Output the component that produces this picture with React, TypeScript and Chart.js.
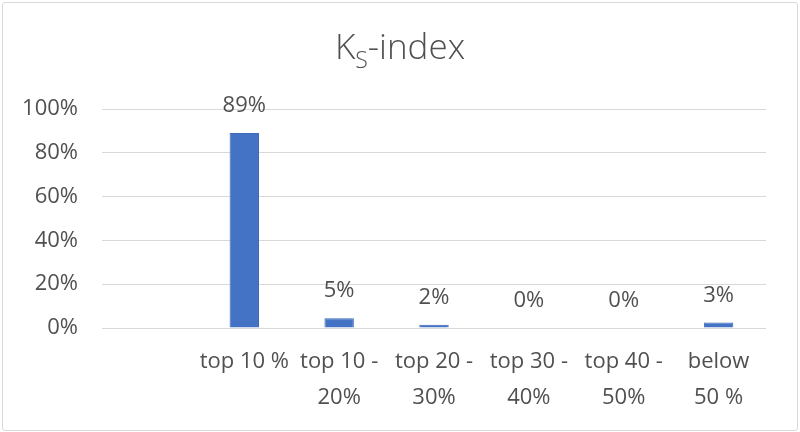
import React, { useEffect, useRef } from "react";
import { Chart, registerables } from "chart.js";

Chart.register(...registerables);

const categories: (string | string[])[] = [
  "",
  "top 10 %",
  ["top 10 -", "20%"],
  ["top 20 -", "30%"],
  ["top 30 -", "40%"],
  ["top 40 -", "50%"],
  ["below", "50 %"],
];
const values: (number | null)[] = [null, 89, 4.5, 1.5, 0, 0, 2.5];
const yTicks = [0, 20, 40, 60, 80, 100];
const titleMain = "K";
const titleSub = "S";
const titleRest = "-index";

const FONT = "'Open Sans', 'Noto Sans', sans-serif";
const TEXT = "#505050";

const titlePlugin = {
  id: "subTitle",
  afterDraw(chart: any) {
    const ctx = chart.ctx;
    ctx.save();
    ctx.fillStyle = TEXT;
    ctx.textBaseline = "alphabetic";
    ctx.textAlign = "left";
    const big = `300 35px ${FONT}`;
    const small = `300 23px ${FONT}`;
    ctx.font = big;
    const wK = ctx.measureText(titleMain).width;
    const wR = ctx.measureText(titleRest).width;
    ctx.font = small;
    const wS = ctx.measureText(titleSub).width;
    const total = wK + wS + wR;
    let x = chart.width / 2 - total / 2;
    const base = 59;
    ctx.font = big;
    ctx.fillText(titleMain, x, base);
    x += wK;
    ctx.font = small;
    ctx.fillText(titleSub, x, base + 9);
    x += wS;
    ctx.font = big;
    ctx.fillText(titleRest, x, base);
    ctx.restore();
  },
};

const labelPlugin = {
  id: "valueLabels",
  afterDatasetsDraw(chart: any) {
    const ctx = chart.ctx;
    const meta = chart.getDatasetMeta(0);
    ctx.save();
    ctx.fillStyle = TEXT;
    ctx.font = `22px ${FONT}`;
    ctx.textAlign = "center";
    ctx.textBaseline = "middle";
    meta.data.forEach((bar: any, i: number) => {
      const v = values[i];
      if (v === null || v === undefined) return;
      ctx.fillText(Math.round(v) + "%", bar.x, bar.y - 27);
    });
    ctx.restore();
  },
};

export default function App() {
  const ref = useRef<HTMLCanvasElement>(null);
  useEffect(() => {
    document.body.style.margin = "0";
    const chart = new Chart(ref.current!, {
      type: "bar",
      data: {
        labels: categories,
        datasets: [
          {
            data: values,
            backgroundColor: "#4472c4",
            borderColor: "#3d68b5",
            borderWidth: 1,
            categoryPercentage: 1,
            barPercentage: 0.31,
          },
        ],
      },
      options: {
        responsive: false,
        animation: false,
        layout: { padding: { top: 109, right: 34, left: 8, bottom: 0 } },
        plugins: {
          legend: { display: false },
          tooltip: { enabled: false },
          title: { display: false },
        },
        scales: {
          x: {
            grid: { display: false, drawTicks: false },
            border: { display: false },
            ticks: {
              color: TEXT,
              font: { family: FONT, size: 22, lineHeight: 1.64 },
              maxRotation: 0,
              minRotation: 0,
              autoSkip: false,
              padding: 16,
            },
            afterFit(scale: any) {
              scale.height = 104;
            },
          },
          y: {
            min: 0,
            max: 100,
            afterBuildTicks(scale: any) {
              scale.ticks = yTicks.map((v) => ({ value: v }));
            },
            grid: { color: "#d9d9d9", lineWidth: 1, drawTicks: false },
            border: { display: false },
            ticks: {
              color: TEXT,
              font: { family: FONT, size: 22 },
              padding: 24,
              callback: (v: any) => v + "%",
            },
            afterFit(scale: any) {
              scale.width = 94;
            },
          },
        },
      },
      plugins: [titlePlugin, labelPlugin],
    });
    return () => chart.destroy();
  }, []);
  return (
    <div
      style={{
        position: "fixed",
        left: 0,
        top: 0,
        width: 800,
        height: 432,
        background: "#fff",
      }}
    >
      <div
        style={{
          position: "absolute",
          left: 2,
          top: 2,
          width: 794,
          height: 427,
          border: "1px solid #d9d9d9",
          borderRadius: 3,
        }}
      />
      <canvas ref={ref} width={800} height={432} style={{ position: "absolute", left: 0, top: 0 }} />
    </div>
  );
}
